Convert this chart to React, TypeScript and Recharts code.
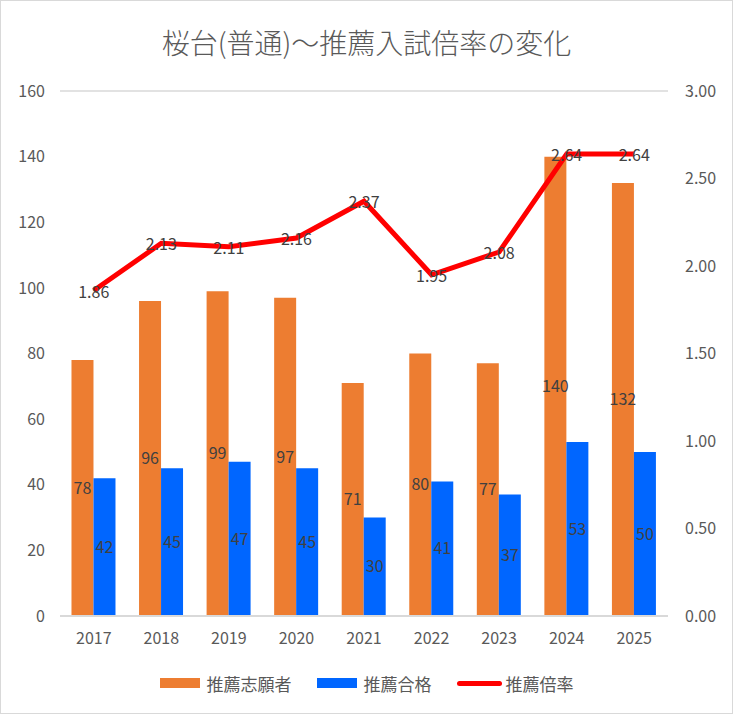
import React from "react";
import {
  ComposedChart,
  Bar,
  Line,
  XAxis,
  YAxis,
  CartesianGrid,
  Legend,
  LabelList,
} from "recharts";

const years = ["2017", "2018", "2019", "2020", "2021", "2022", "2023", "2024", "2025"];
const applicants = [78, 96, 99, 97, 71, 80, 77, 140, 132];
const passed = [42, 45, 47, 45, 30, 41, 37, 53, 50];
const ratio = [1.86, 2.13, 2.11, 2.16, 2.37, 1.95, 2.08, 2.64, 2.64];
const leftTicks = [0, 20, 40, 60, 80, 100, 120, 140, 160];
const rightTicks = [0, 0.5, 1, 1.5, 2, 2.5, 3];

const seriesNames = ["推薦志願者", "推薦合格", "推薦倍率"];
const colors = ["#ED7D31", "#0066FF", "#FF0000"];

const data = years.map((y, i) => ({
  year: y,
  applicants: applicants[i],
  passed: passed[i],
  ratio: ratio[i],
}));

const FONT = '"Noto Sans CJK JP", "Noto Sans", sans-serif';
const labelColor = "#404040";
const axisColor = "#595959";

const LineLabel = (props: any) => {
  const { x, y, value } = props;
  return (
    <text
      x={x}
      y={y}
      textAnchor="middle"
      dominantBaseline="central"
      fontSize={16}
      fill={labelColor}
      fontFamily={FONT}
    >
      {Number(value).toFixed(2)}
    </text>
  );
};

const CustomLegend = () => (
  <div
    style={{
      height: 58,
      display: "flex",
      justifyContent: "center",
      alignItems: "center",
      paddingBottom: 4,
      boxSizing: "border-box",
      fontFamily: FONT,
      fontSize: 17,
      color: axisColor,
    }}
  >
    {seriesNames.map((n, i) => (
      <div key={n} style={{ display: "flex", alignItems: "center", marginRight: i < 2 ? 25 : 0 }}>
        {i < 2 ? (
          <div style={{ width: 40, height: 10, background: colors[i], marginRight: 7 }} />
        ) : (
          <div style={{ width: 45, height: 5, borderRadius: 3, background: colors[i], marginRight: 4 }} />
        )}
        <span>{n}</span>
      </div>
    ))}
  </div>
);

export default function App() {
  return (
    <div style={{ position: "absolute", left: 0, top: 0, width: 733, height: 714, background: "#fff" }}>
      <div
        style={{
          position: "absolute",
          left: 0,
          top: 22,
          width: 733,
          textAlign: "center",
          fontFamily: FONT,
          fontSize: 28,
          lineHeight: "40px",
          fontWeight: 300,
          color: axisColor,
          zIndex: 2,
        }}
      >
        桜台(普通)～推薦入試倍率の変化
      </div>
      <ComposedChart
        width={733}
        height={714}
        data={data}
        margin={{ top: 91, right: 0, bottom: 0, left: 0 }}
        barCategoryGap="17%"
        barGap={0}
      >
        <CartesianGrid vertical={false} stroke="#d9d9d9" strokeWidth={1.5} />
        <XAxis
          dataKey="year"
          height={40}
          tickLine={false}
          tickSize={0}
          tickMargin={17}
          axisLine={{ stroke: "#d9d9d9", strokeWidth: 2 }}
          tick={{ fontSize: 16, fill: axisColor, fontFamily: FONT }}
        />
        <YAxis
          yAxisId="left"
          orientation="left"
          width={60}
          domain={[0, 160]}
          ticks={leftTicks}
          tickLine={false}
          tickSize={0}
          tickMargin={15}
          axisLine={false}
          tick={{ fontSize: 16, fill: axisColor, fontFamily: FONT }}
        />
        <YAxis
          yAxisId="right"
          orientation="right"
          width={65}
          domain={[0, 3]}
          ticks={rightTicks}
          tickFormatter={(v: number) => v.toFixed(2)}
          tickLine={false}
          tickSize={0}
          tickMargin={17}
          axisLine={false}
          tick={{ fontSize: 16, fill: axisColor, fontFamily: FONT, textAnchor: "start" }}
        />
        <Legend verticalAlign="bottom" height={58} content={<CustomLegend />} />
        <Bar yAxisId="left" dataKey="applicants" name={seriesNames[0]} fill={colors[0]} isAnimationActive={false}>
          <LabelList dataKey="applicants" position="center" fill={labelColor} fontSize={16} fontFamily={FONT} />
        </Bar>
        <Bar yAxisId="left" dataKey="passed" name={seriesNames[1]} fill={colors[1]} isAnimationActive={false}>
          <LabelList dataKey="passed" position="center" fill={labelColor} fontSize={16} fontFamily={FONT} />
        </Bar>
        <Line
          yAxisId="right"
          dataKey="ratio"
          name={seriesNames[2]}
          stroke={colors[2]}
          strokeWidth={5}
          dot={false}
          activeDot={false}
          isAnimationActive={false}
        >
          <LabelList dataKey="ratio" content={<LineLabel />} />
        </Line>
      </ComposedChart>
      <div
        style={{
          position: "absolute",
          left: 0,
          top: 0,
          width: 733,
          height: 714,
          boxSizing: "border-box",
          border: "1px solid #d9d9d9",
          pointerEvents: "none",
        }}
      />
    </div>
  );
}
